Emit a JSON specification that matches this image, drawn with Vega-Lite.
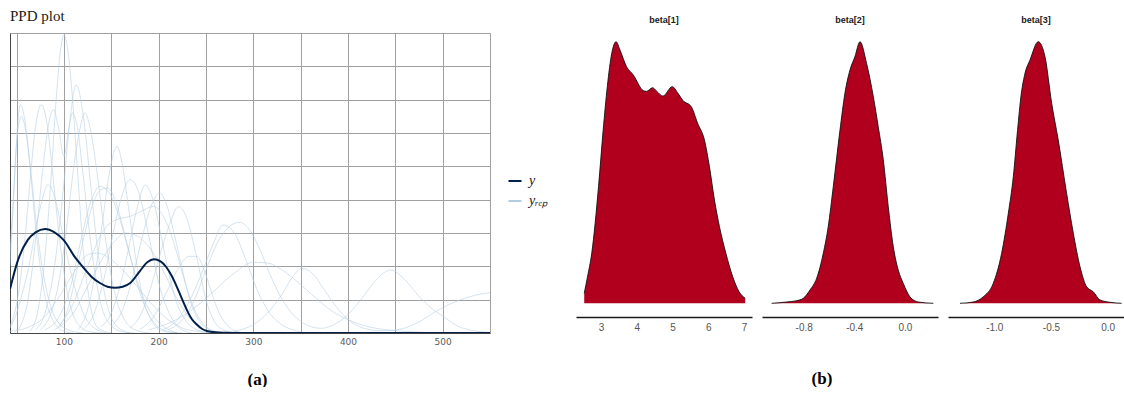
{
  "$schema": "https://vega.github.io/schema/vega-lite/v6.json",
  "padding": {"left": 10, "top": 9, "right": 0, "bottom": 0},
  "background": "white",
  "config": {"view": {"stroke": null}},
  "bounds": "flush",
  "spacing": 86,
  "resolve": {"scale": {"color": "independent"}, "legend": {"color": "independent"}},
  "datasets": {
    "yrep": [
      {"c":"r1","x":64,"g":0.05},{"c":"r1","x":72,"g":0.6},{"c":"r1","x":80,"g":2.3},{"c":"r1","x":86,"g":4.5},{"c":"r1","x":92,"g":7.1},{"c":"r1","x":96,"g":8.4},{"c":"r1","x":100,"g":8.95},{"c":"r1","x":104,"g":8.5},{"c":"r1","x":108,"g":7.4},{"c":"r1","x":114,"g":5.0},{"c":"r1","x":120,"g":2.6},{"c":"r1","x":128,"g":0.8},{"c":"r1","x":136,"g":0.15},{"c":"r1","x":150,"g":0},
      {"c":"r2","x":70,"g":0.1},{"c":"r2","x":80,"g":0.6},{"c":"r2","x":90,"g":2.0},{"c":"r2","x":100,"g":4.5},{"c":"r2","x":106,"g":6.3},{"c":"r2","x":113,"g":7.44},{"c":"r2","x":120,"g":6.6},{"c":"r2","x":128,"g":4.5},{"c":"r2","x":136,"g":2.4},{"c":"r2","x":146,"g":0.8},{"c":"r2","x":156,"g":0.2},{"c":"r2","x":170,"g":0},
      {"c":"r3","x":43,"g":2.0},{"c":"r3","x":46,"g":3.6},{"c":"r3","x":50,"g":5.8},{"c":"r3","x":54,"g":6.85},{"c":"r3","x":58,"g":6.5},{"c":"r3","x":64,"g":5.0},{"c":"r3","x":70,"g":3.2},{"c":"r3","x":78,"g":1.4},{"c":"r3","x":88,"g":0.4},{"c":"r3","x":100,"g":0.05},{"c":"r3","x":110,"g":0},
      {"c":"r4","x":43,"g":2.4},{"c":"r4","x":47,"g":4.3},{"c":"r4","x":51,"g":6.0},{"c":"r4","x":55,"g":6.5},{"c":"r4","x":60,"g":6.0},{"c":"r4","x":66,"g":4.6},{"c":"r4","x":72,"g":3.0},{"c":"r4","x":80,"g":1.5},{"c":"r4","x":90,"g":0.5},{"c":"r4","x":104,"g":0.1},{"c":"r4","x":120,"g":0},
      {"c":"r5","x":43,"g":0.2},{"c":"r5","x":52,"g":1.2},{"c":"r5","x":58,"g":2.6},{"c":"r5","x":64,"g":4.5},{"c":"r5","x":70,"g":6.2},{"c":"r5","x":76,"g":6.85},{"c":"r5","x":82,"g":6.3},{"c":"r5","x":88,"g":4.8},{"c":"r5","x":95,"g":2.9},{"c":"r5","x":103,"g":1.3},{"c":"r5","x":112,"g":0.4},{"c":"r5","x":125,"g":0.05},{"c":"r5","x":140,"g":0},
      {"c":"r6","x":52,"g":0.1},{"c":"r6","x":62,"g":1.0},{"c":"r6","x":70,"g":2.8},{"c":"r6","x":78,"g":5.0},{"c":"r6","x":84,"g":6.3},{"c":"r6","x":89,"g":6.7},{"c":"r6","x":94,"g":6.2},{"c":"r6","x":100,"g":5.3},{"c":"r6","x":105,"g":6.1},{"c":"r6","x":109,"g":6.6},{"c":"r6","x":114,"g":6.2},{"c":"r6","x":120,"g":4.8},{"c":"r6","x":127,"g":3.0},{"c":"r6","x":135,"g":1.4},{"c":"r6","x":145,"g":0.4},{"c":"r6","x":160,"g":0.05},{"c":"r6","x":175,"g":0},
      {"c":"r7","x":75,"g":0.1},{"c":"r7","x":85,"g":0.5},{"c":"r7","x":95,"g":1.6},{"c":"r7","x":103,"g":3.2},{"c":"r7","x":110,"g":4.9},{"c":"r7","x":116,"g":6.0},{"c":"r7","x":122,"g":6.6},{"c":"r7","x":128,"g":6.1},{"c":"r7","x":135,"g":4.8},{"c":"r7","x":143,"g":3.0},{"c":"r7","x":152,"g":1.4},{"c":"r7","x":162,"g":0.5},{"c":"r7","x":175,"g":0.1},{"c":"r7","x":190,"g":0},
      {"c":"r8","x":115,"g":0.1},{"c":"r8","x":125,"g":0.7},{"c":"r8","x":133,"g":1.8},{"c":"r8","x":141,"g":3.4},{"c":"r8","x":148,"g":4.8},{"c":"r8","x":156,"g":5.6},{"c":"r8","x":162,"g":5.0},{"c":"r8","x":168,"g":3.8},{"c":"r8","x":175,"g":2.4},{"c":"r8","x":183,"g":1.1},{"c":"r8","x":192,"g":0.4},{"c":"r8","x":205,"g":0.05},{"c":"r8","x":220,"g":0},
      {"c":"r9","x":140,"g":0.2},{"c":"r9","x":150,"g":0.6},{"c":"r9","x":160,"g":1.5},{"c":"r9","x":168,"g":2.5},{"c":"r9","x":176,"g":3.6},{"c":"r9","x":186,"g":4.44},{"c":"r9","x":194,"g":4.0},{"c":"r9","x":202,"g":3.0},{"c":"r9","x":210,"g":1.9},{"c":"r9","x":218,"g":1.0},{"c":"r9","x":228,"g":0.4},{"c":"r9","x":240,"g":0.1},{"c":"r9","x":255,"g":0},
      {"c":"r10","x":150,"g":0.2},{"c":"r10","x":162,"g":0.7},{"c":"r10","x":172,"g":1.6},{"c":"r10","x":182,"g":2.8},{"c":"r10","x":192,"g":3.8},{"c":"r10","x":201,"g":4.2},{"c":"r10","x":209,"g":3.8},{"c":"r10","x":217,"g":2.9},{"c":"r10","x":225,"g":1.9},{"c":"r10","x":233,"g":1.0},{"c":"r10","x":242,"g":0.4},{"c":"r10","x":252,"g":0.12},{"c":"r10","x":265,"g":0},
      {"c":"r11","x":170,"g":0.15},{"c":"r11","x":182,"g":0.6},{"c":"r11","x":192,"g":1.4},{"c":"r11","x":202,"g":2.4},{"c":"r11","x":212,"g":3.3},{"c":"r11","x":221,"g":3.79},{"c":"r11","x":229,"g":3.5},{"c":"r11","x":236,"g":2.8},{"c":"r11","x":243,"g":1.9},{"c":"r11","x":250,"g":1.0},{"c":"r11","x":257,"g":0.45},{"c":"r11","x":265,"g":0.15},{"c":"r11","x":280,"g":0},
      {"c":"r12","x":95,"g":0.2},{"c":"r12","x":110,"g":0.9},{"c":"r12","x":125,"g":2.0},{"c":"r12","x":140,"g":3.0},{"c":"r12","x":155,"g":3.4},{"c":"r12","x":170,"g":3.5},{"c":"r12","x":185,"g":3.7},{"c":"r12","x":194,"g":3.8},{"c":"r12","x":205,"g":3.5},{"c":"r12","x":215,"g":2.8},{"c":"r12","x":225,"g":1.8},{"c":"r12","x":235,"g":0.9},{"c":"r12","x":245,"g":0.35},{"c":"r12","x":255,"g":0.1},{"c":"r12","x":270,"g":0},
      {"c":"r13","x":205,"g":0.1},{"c":"r13","x":220,"g":0.4},{"c":"r13","x":235,"g":1.1},{"c":"r13","x":247,"g":1.9},{"c":"r13","x":258,"g":2.7},{"c":"r13","x":268,"g":3.24},{"c":"r13","x":280,"g":3.0},{"c":"r13","x":292,"g":2.2},{"c":"r13","x":304,"g":1.3},{"c":"r13","x":316,"g":0.65},{"c":"r13","x":330,"g":0.25},{"c":"r13","x":345,"g":0.07},{"c":"r13","x":360,"g":0},
      {"c":"r14","x":210,"g":0.1},{"c":"r14","x":225,"g":0.4},{"c":"r14","x":238,"g":1.0},{"c":"r14","x":250,"g":1.9},{"c":"r14","x":262,"g":2.7},{"c":"r14","x":275,"g":3.2},{"c":"r14","x":285,"g":3.32},{"c":"r14","x":296,"g":3.1},{"c":"r14","x":307,"g":2.5},{"c":"r14","x":320,"g":1.6},{"c":"r14","x":335,"g":0.8},{"c":"r14","x":350,"g":0.35},{"c":"r14","x":362,"g":0.18},{"c":"r14","x":372,"g":0.14},{"c":"r14","x":385,"g":0.25},{"c":"r14","x":400,"g":0.55},{"c":"r14","x":415,"g":1.05},{"c":"r14","x":430,"g":1.6},{"c":"r14","x":445,"g":1.89},{"c":"r14","x":460,"g":1.6},{"c":"r14","x":475,"g":1.1},{"c":"r14","x":490,"g":0.7},{"c":"r14","x":501,"g":0.49},{"c":"r14","x":515,"g":0.22},{"c":"r14","x":530,"g":0.08},{"c":"r14","x":550,"g":0.02},
      {"c":"r15","x":190,"g":0.1},{"c":"r15","x":215,"g":0.35},{"c":"r15","x":240,"g":0.8},{"c":"r15","x":260,"g":1.3},{"c":"r15","x":280,"g":1.8},{"c":"r15","x":300,"g":2.12},{"c":"r15","x":315,"g":2.1},{"c":"r15","x":330,"g":1.9},{"c":"r15","x":350,"g":1.45},{"c":"r15","x":370,"g":0.95},{"c":"r15","x":385,"g":0.62},{"c":"r15","x":400,"g":0.4},{"c":"r15","x":420,"g":0.2},{"c":"r15","x":440,"g":0.1},{"c":"r15","x":460,"g":0.05},{"c":"r15","x":480,"g":0.02},{"c":"r15","x":500,"g":0},
      {"c":"r16","x":280,"g":0.05},{"c":"r16","x":300,"g":0.25},{"c":"r16","x":315,"g":0.6},{"c":"r16","x":330,"g":1.15},{"c":"r16","x":342,"g":1.7},{"c":"r16","x":351,"g":1.94},{"c":"r16","x":362,"g":1.8},{"c":"r16","x":375,"g":1.3},{"c":"r16","x":390,"g":0.7},{"c":"r16","x":405,"g":0.3},{"c":"r16","x":420,"g":0.12},{"c":"r16","x":435,"g":0.07},{"c":"r16","x":447,"g":0.08},{"c":"r16","x":465,"g":0.2},{"c":"r16","x":478,"g":0.38},{"c":"r16","x":490,"g":0.6},{"c":"r16","x":504,"g":0.82},{"c":"r16","x":518,"g":0.99},{"c":"r16","x":534,"g":1.13},{"c":"r16","x":550,"g":1.21},
      {"c":"r17","x":80,"g":0.1},{"c":"r17","x":95,"g":0.5},{"c":"r17","x":108,"g":1.5},{"c":"r17","x":118,"g":2.8},{"c":"r17","x":128,"g":3.9},{"c":"r17","x":138,"g":4.4},{"c":"r17","x":148,"g":4.2},{"c":"r17","x":158,"g":3.5},{"c":"r17","x":168,"g":2.5},{"c":"r17","x":178,"g":1.5},{"c":"r17","x":190,"g":0.7},{"c":"r17","x":205,"g":0.2},{"c":"r17","x":220,"g":0},
      {"c":"r18","x":90,"g":0.1},{"c":"r18","x":110,"g":0.6},{"c":"r18","x":125,"g":1.4},{"c":"r18","x":140,"g":2.2},{"c":"r18","x":155,"g":2.8},{"c":"r18","x":165,"g":3.0},{"c":"r18","x":178,"g":2.9},{"c":"r18","x":192,"g":2.5},{"c":"r18","x":206,"g":1.8},{"c":"r18","x":218,"g":1.1},{"c":"r18","x":230,"g":0.55},{"c":"r18","x":242,"g":0.2},{"c":"r18","x":255,"g":0.05},{"c":"r18","x":270,"g":0},
      {"c":"r19","x":43,"g":0.05},{"c":"r19","x":60,"g":0.15},{"c":"r19","x":80,"g":0.5},{"c":"r19","x":95,"g":1.1},{"c":"r19","x":110,"g":1.8},{"c":"r19","x":125,"g":2.35},{"c":"r19","x":135,"g":2.4},{"c":"r19","x":150,"g":2.2},{"c":"r19","x":165,"g":1.8},{"c":"r19","x":180,"g":1.3},{"c":"r19","x":195,"g":0.8},{"c":"r19","x":210,"g":0.4},{"c":"r19","x":225,"g":0.15},{"c":"r19","x":240,"g":0.05},{"c":"r19","x":255,"g":0},
      {"c":"r20","x":180,"g":0.1},{"c":"r20","x":195,"g":0.5},{"c":"r20","x":208,"g":1.2},{"c":"r20","x":220,"g":1.9},{"c":"r20","x":232,"g":2.3},{"c":"r20","x":240,"g":2.3},{"c":"r20","x":248,"g":1.9},{"c":"r20","x":256,"g":1.2},{"c":"r20","x":264,"g":0.6},{"c":"r20","x":272,"g":0.25},{"c":"r20","x":282,"g":0.05},{"c":"r20","x":295,"g":0},
      {"c":"r21","x":43,"g":0.15},{"c":"r21","x":50,"g":0.6},{"c":"r21","x":57,"g":1.3},{"c":"r21","x":63,"g":2.0},{"c":"r21","x":70,"g":3.1},{"c":"r21","x":77,"g":4.0},{"c":"r21","x":83,"g":4.45},{"c":"r21","x":90,"g":4.1},{"c":"r21","x":97,"g":3.2},{"c":"r21","x":105,"g":2.1},{"c":"r21","x":113,"g":1.2},{"c":"r21","x":122,"g":0.5},{"c":"r21","x":132,"g":0.15},{"c":"r21","x":145,"g":0},
      {"c":"r22","x":95,"g":0.2},{"c":"r22","x":105,"g":0.8},{"c":"r22","x":113,"g":1.8},{"c":"r22","x":122,"g":3.0},{"c":"r22","x":131,"g":3.9},{"c":"r22","x":139,"g":4.3},{"c":"r22","x":146,"g":4.35},{"c":"r22","x":154,"g":4.0},{"c":"r22","x":162,"g":3.2},{"c":"r22","x":170,"g":2.3},{"c":"r22","x":178,"g":1.4},{"c":"r22","x":187,"g":0.7},{"c":"r22","x":197,"g":0.25},{"c":"r22","x":210,"g":0.05},{"c":"r22","x":225,"g":0},
      {"c":"r23","x":120,"g":0.1},{"c":"r23","x":132,"g":0.6},{"c":"r23","x":142,"g":1.6},{"c":"r23","x":152,"g":3.0},{"c":"r23","x":160,"g":4.0},{"c":"r23","x":170,"g":4.6},{"c":"r23","x":178,"g":4.3},{"c":"r23","x":186,"g":3.4},{"c":"r23","x":194,"g":2.3},{"c":"r23","x":202,"g":1.3},{"c":"r23","x":211,"g":0.6},{"c":"r23","x":222,"g":0.15},{"c":"r23","x":235,"g":0}
    ],
    "yobs": [
      {"x":43,"g":1.32},{"x":51,"g":2.15},{"x":62,"g":2.8},{"x":70,"g":3.02},{"x":80,"g":3.12},{"x":90,"g":3.02},{"x":100,"g":2.78},{"x":111,"g":2.3},{"x":120,"g":1.98},{"x":129,"g":1.69},{"x":138,"g":1.5},{"x":146,"g":1.39},{"x":154,"g":1.36},{"x":162,"g":1.39},{"x":170,"g":1.5},{"x":180,"g":1.85},{"x":188,"g":2.12},{"x":195,"g":2.21},{"x":202,"g":2.15},{"x":208,"g":1.98},{"x":214,"g":1.7},{"x":219,"g":1.4},{"x":225,"g":1.0},{"x":230,"g":0.68},{"x":235,"g":0.42},{"x":240,"g":0.26},{"x":246,"g":0.12},{"x":251,"g":0.06},{"x":260,"g":0.02},{"x":270,"g":0.01},{"x":300,"g":0},{"x":550,"g":0}
    ],
    "beta": [
      {"p":"beta[1]","x":2.53,"v":0.038},{"p":"beta[1]","x":2.62,"v":0.1},{"p":"beta[1]","x":2.74,"v":0.191},{"p":"beta[1]","x":2.93,"v":0.446},{"p":"beta[1]","x":3.06,"v":0.662},{"p":"beta[1]","x":3.175,"v":0.828},{"p":"beta[1]","x":3.3,"v":0.956},{"p":"beta[1]","x":3.42,"v":1.0},{"p":"beta[1]","x":3.53,"v":0.968},{"p":"beta[1]","x":3.71,"v":0.905},{"p":"beta[1]","x":3.9,"v":0.873},{"p":"beta[1]","x":4.18,"v":0.813},{"p":"beta[1]","x":4.27,"v":0.81},{"p":"beta[1]","x":4.44,"v":0.824},{"p":"beta[1]","x":4.56,"v":0.81},{"p":"beta[1]","x":4.73,"v":0.792},{"p":"beta[1]","x":4.99,"v":0.828},{"p":"beta[1]","x":5.15,"v":0.803},{"p":"beta[1]","x":5.29,"v":0.775},{"p":"beta[1]","x":5.52,"v":0.752},{"p":"beta[1]","x":5.7,"v":0.688},{"p":"beta[1]","x":5.89,"v":0.624},{"p":"beta[1]","x":6.03,"v":0.522},{"p":"beta[1]","x":6.17,"v":0.395},{"p":"beta[1]","x":6.31,"v":0.293},{"p":"beta[1]","x":6.49,"v":0.191},{"p":"beta[1]","x":6.68,"v":0.102},{"p":"beta[1]","x":6.86,"v":0.044},{"p":"beta[1]","x":7.03,"v":0.019},
      {"p":"beta[2]","x":-1.053,"v":0},{"p":"beta[2]","x":-0.934,"v":0.005},{"p":"beta[2]","x":-0.855,"v":0.01},{"p":"beta[2]","x":-0.803,"v":0.019},{"p":"beta[2]","x":-0.75,"v":0.051},{"p":"beta[2]","x":-0.697,"v":0.096},{"p":"beta[2]","x":-0.645,"v":0.191},{"p":"beta[2]","x":-0.606,"v":0.293},{"p":"beta[2]","x":-0.566,"v":0.446},{"p":"beta[2]","x":-0.513,"v":0.662},{"p":"beta[2]","x":-0.474,"v":0.803},{"p":"beta[2]","x":-0.434,"v":0.892},{"p":"beta[2]","x":-0.395,"v":0.943},{"p":"beta[2]","x":-0.355,"v":1.0},{"p":"beta[2]","x":-0.303,"v":0.917},{"p":"beta[2]","x":-0.25,"v":0.79},{"p":"beta[2]","x":-0.211,"v":0.675},{"p":"beta[2]","x":-0.171,"v":0.548},{"p":"beta[2]","x":-0.132,"v":0.37},{"p":"beta[2]","x":-0.092,"v":0.216},{"p":"beta[2]","x":-0.053,"v":0.127},{"p":"beta[2]","x":-0.013,"v":0.076},{"p":"beta[2]","x":0.039,"v":0.025},{"p":"beta[2]","x":0.105,"v":0.005},{"p":"beta[2]","x":0.224,"v":0},
      {"p":"beta[3]","x":-1.302,"v":0},{"p":"beta[3]","x":-1.185,"v":0.005},{"p":"beta[3]","x":-1.097,"v":0.025},{"p":"beta[3]","x":-1.009,"v":0.076},{"p":"beta[3]","x":-0.935,"v":0.191},{"p":"beta[3]","x":-0.876,"v":0.344},{"p":"beta[3]","x":-0.832,"v":0.484},{"p":"beta[3]","x":-0.795,"v":0.66},{"p":"beta[3]","x":-0.762,"v":0.8},{"p":"beta[3]","x":-0.729,"v":0.879},{"p":"beta[3]","x":-0.685,"v":0.93},{"p":"beta[3]","x":-0.612,"v":1.0},{"p":"beta[3]","x":-0.553,"v":0.943},{"p":"beta[3]","x":-0.494,"v":0.765},{"p":"beta[3]","x":-0.436,"v":0.624},{"p":"beta[3]","x":-0.362,"v":0.42},{"p":"beta[3]","x":-0.303,"v":0.268},{"p":"beta[3]","x":-0.244,"v":0.14},{"p":"beta[3]","x":-0.185,"v":0.063},{"p":"beta[3]","x":-0.127,"v":0.044},{"p":"beta[3]","x":-0.068,"v":0.013},{"p":"beta[3]","x":0.02,"v":0.004},{"p":"beta[3]","x":0.123,"v":0}
    ]
  },
  "hconcat": [
    {
      "width": 480,
      "height": 300,
      "title": {"text": "PPD plot", "anchor": "start", "font": "Liberation Serif", "fontSize": 15, "fontWeight": "normal", "color": "#1a1a1a", "offset": 9},
      "encoding": {
        "x": {"field": "x", "type": "quantitative", "scale": {"domain": [43, 550], "nice": false, "zero": false},
          "axis": {"values": [50, 100, 150, 200, 250, 300, 350, 400, 450, 500, 550], "labelExpr": "datum.value % 100 == 0 ? datum.label : ''", "labelFlush": false, "title": "(a)", "titleFont": "Liberation Serif", "titleFontSize": 17, "titleFontWeight": "bold", "titleColor": "#000000", "titlePadding": 25, "titleX": 247, "labelFont": "DejaVu Sans", "labelFontSize": 9, "labelColor": "#5b5b5b", "labelPadding": 4, "ticks": false, "domain": true, "domainColor": "#444444", "grid": true, "gridColor": "#a0a0a0", "gridWidth": 1}},
        "y": {"field": "g", "type": "quantitative", "scale": {"domain": [0, 9], "nice": false},
          "axis": {"values": [0, 1, 2, 3, 4, 5, 6, 7, 8, 9], "labels": false, "ticks": false, "title": null, "domain": true, "domainColor": "#444444", "grid": true, "gridColor": "#a0a0a0", "gridWidth": 1}}
      },
      "layer": [
        {
          "data": {"name": "yrep"},
          "mark": {"type": "line", "interpolate": "monotone", "strokeWidth": 0.8, "opacity": 0.7, "clip": true},
          "encoding": {
            "detail": {"field": "c", "type": "nominal"},
            "color": {"datum": "yᵣₑₚ", "type": "nominal",
              "scale": {"domain": ["y", "yᵣₑₚ"], "range": ["#011f4b", "#b3cde0"]},
              "legend": {"title": null, "orient": "none", "legendX": 497, "legendY": 140, "symbolType": "stroke", "symbolSize": 170, "symbolStrokeWidth": 2, "symbolOpacity": 1, "labelFont": "Liberation Serif", "labelFontStyle": "italic", "labelFontSize": 14, "labelColor": "#1a1a1a", "rowPadding": 5, "labelOffset": 6}}
          }
        },
        {
          "data": {"name": "yobs"},
          "mark": {"type": "line", "interpolate": "monotone", "strokeWidth": 2, "clip": true},
          "encoding": {
            "color": {"datum": "y", "type": "nominal"}
          }
        }
      ]
    },
    {
      "bounds": "flush",
      "spacing": 10,
      "title": {"text": "(b)", "orient": "bottom", "anchor": "middle", "dx": -28, "offset": 39, "font": "Liberation Serif", "fontSize": 17, "fontWeight": "bold", "color": "#000000"},
      "hconcat": [
        {
          "width": 176, "height": 284,
          "data": {"name": "beta"},
          "transform": [{"filter": "datum.p == 'beta[1]'"}],
          "title": {"text": "beta[1]", "font": "Liberation Sans", "fontSize": 9, "fontWeight": "bold", "color": "#1a1a1a", "offset": 8, "anchor": "middle"},
          "encoding": {
            "x": {"field": "x", "type": "quantitative", "scale": {"domain": [2.30, 7.22], "nice": false, "zero": false},
              "axis": {"values": [3, 4, 5, 6, 7], "format": "d", "labelFlush": false, "title": null, "labelFont": "Liberation Sans", "labelFontSize": 10, "labelColor": "#555555", "labelPadding": 5, "ticks": false, "grid": false, "domainColor": "#1a1a1a", "domainWidth": 1.6}},
            "y": {"field": "v", "type": "quantitative", "scale": {"domain": [-0.0523, 1.0332], "nice": false, "zero": false}, "axis": null}
          },
          "layer": [
            {"mark": {"type": "area", "interpolate": "monotone", "color": "#b0001e"}, "encoding": {"y2": {"datum": 0}}},
            {"mark": {"type": "line", "interpolate": "monotone", "color": "#111111", "strokeWidth": 0.9}, "encoding": {}}
          ]
        },
        {
          "width": 176, "height": 284,
          "data": {"name": "beta"},
          "transform": [{"filter": "datum.p == 'beta[2]'"}],
          "title": {"text": "beta[2]", "font": "Liberation Sans", "fontSize": 9, "fontWeight": "bold", "color": "#1a1a1a", "offset": 8, "anchor": "middle"},
          "encoding": {
            "x": {"field": "x", "type": "quantitative", "scale": {"domain": [-1.129, 0.261], "nice": false, "zero": false},
              "axis": {"values": [-0.8, -0.4, 0.0], "format": ".1f", "labelExpr": "replace(datum.label, '−', '-')", "labelFlush": false, "title": null, "labelFont": "Liberation Sans", "labelFontSize": 10, "labelColor": "#555555", "labelPadding": 5, "ticks": false, "grid": false, "domainColor": "#1a1a1a", "domainWidth": 1.6}},
            "y": {"field": "v", "type": "quantitative", "scale": {"domain": [-0.0523, 1.0332], "nice": false, "zero": false}, "axis": null}
          },
          "layer": [
            {"mark": {"type": "area", "interpolate": "monotone", "color": "#b0001e"}, "encoding": {"y2": {"datum": 0}}},
            {"mark": {"type": "line", "interpolate": "monotone", "color": "#111111", "strokeWidth": 0.9}, "encoding": {}}
          ]
        },
        {
          "width": 176, "height": 284,
          "data": {"name": "beta"},
          "transform": [{"filter": "datum.p == 'beta[3]'"}],
          "title": {"text": "beta[3]", "font": "Liberation Sans", "fontSize": 9, "fontWeight": "bold", "color": "#1a1a1a", "offset": 8, "anchor": "middle"},
          "encoding": {
            "x": {"field": "x", "type": "quantitative", "scale": {"domain": [-1.408, 0.144], "nice": false, "zero": false},
              "axis": {"values": [-1.0, -0.5, 0.0], "format": ".1f", "labelExpr": "replace(datum.label, '−', '-')", "labelFlush": false, "title": null, "labelFont": "Liberation Sans", "labelFontSize": 10, "labelColor": "#555555", "labelPadding": 5, "ticks": false, "grid": false, "domainColor": "#1a1a1a", "domainWidth": 1.6}},
            "y": {"field": "v", "type": "quantitative", "scale": {"domain": [-0.0523, 1.0332], "nice": false, "zero": false}, "axis": null}
          },
          "layer": [
            {"mark": {"type": "area", "interpolate": "monotone", "color": "#b0001e"}, "encoding": {"y2": {"datum": 0}}},
            {"mark": {"type": "line", "interpolate": "monotone", "color": "#111111", "strokeWidth": 0.9}, "encoding": {}}
          ]
        }
      ]
    }
  ]
}
